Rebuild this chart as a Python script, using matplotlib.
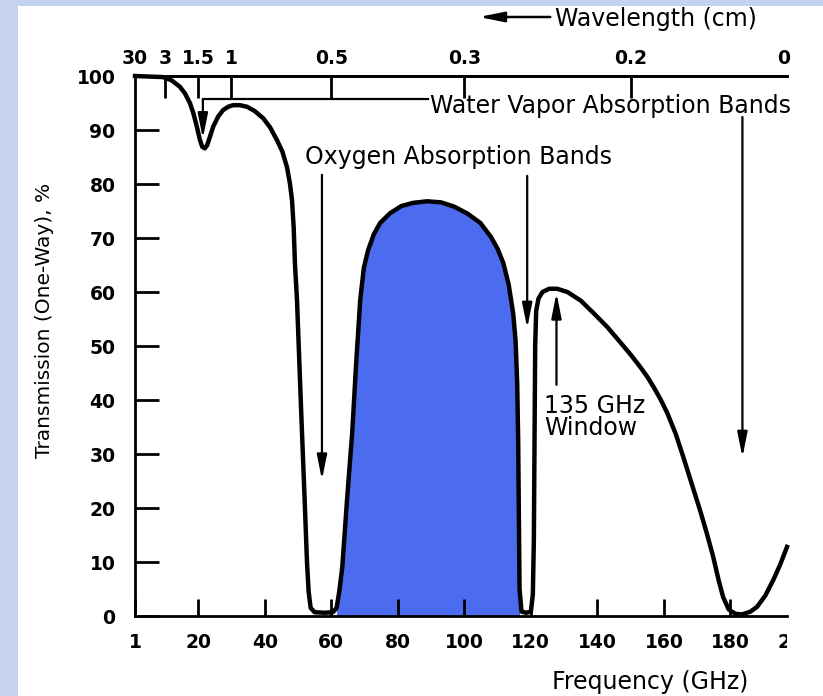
import matplotlib
matplotlib.use('Agg')
import matplotlib.pyplot as plt
from matplotlib.patches import Rectangle, FancyArrowPatch

# transmission curve (frequency GHz, transmission %)
freq = [1, 5, 9.4, 12, 14.5, 16, 17.5, 18.6, 19.6, 20.5, 21.2, 22, 22.7, 23.5, 24.5,
        26, 27.5, 29, 30.5, 32.5, 34.7, 37, 39.5, 41.6, 43.7, 45.3, 46.7, 47.6, 48.2,
        48.7, 49.1, 49.7, 50.4, 51.2, 52, 52.7, 53.2, 53.8, 55, 58, 60.5, 61.6, 62.4,
        63.3, 64.8, 66.3, 67.5, 68.7, 69.8, 71.1, 72.8, 74.7, 77.7, 81, 84.5, 88.8,
        93, 97, 101, 104.8, 108, 110, 111.7, 113.3, 114.7, 115.4, 115.9, 116.2, 116.4,
        116.6, 117.2, 118.6, 120.0, 120.6, 120.9, 121.1, 121.3, 121.6, 122.3, 123.5,
        125.5, 127.9, 131, 135, 139, 143, 147, 150, 152.9, 155, 157, 159, 161, 163.5,
        165.8, 168.4, 170.9, 172.9, 174.8, 176.5, 177.8, 179.5, 181.5, 183.5, 186, 188,
        190.5, 192.9, 195, 197]
trans = [100, 99.9, 99.8, 99.2, 98, 96.8, 95, 93, 90.6, 88.2, 86.9, 86.6, 87.2, 88.7, 90.6,
         92.5, 93.7, 94.3, 94.6, 94.6, 94.3, 93.5, 92.2, 90.5, 88.1, 86, 83.1, 80, 77,
         72, 65, 58.5, 47, 34, 21.5, 10, 4.5, 1.5, 0.7, 0.6, 0.7, 1.5, 4.5,
         9, 22, 34, 47, 58.5, 64.5, 67.8, 70.7, 72.8, 74.6, 75.9, 76.5, 76.8,
         76.6, 75.8, 74.5, 72.8, 70.2, 68, 65.4, 61.5, 56, 51, 43, 32, 18,
         5, 0.8, 0.6, 0.8, 4, 14, 32, 50, 56.5, 58.8, 60,
         60.6, 60.6, 60, 58.4, 56, 53.5, 50.6, 48.4, 46.1, 44.3, 42.3, 40.1, 37.6, 33.8,
         29.5, 24.4, 19.5, 15.3, 11, 6.5, 3.5, 1.2, 0.4, 0.3, 0.8, 1.7,
         3.8, 6.7, 9.6, 12.8]

# top wavelength axis
wl_labels = ['30', '3', '1.5', '1', '0.5', '0.3', '0.2', '0']
wl_pos = [1, 10, 20, 30, 60, 100, 150, 196]

x_ticks = [1, 20, 40, 60, 80, 100, 120, 140, 160, 180]
y_ticks = [0, 10, 20, 30, 40, 50, 60, 70, 80, 90, 100]

W, H = 823, 696
fig = plt.figure(figsize=(W / 100, H / 100), dpi=100)
fig.patch.set_facecolor('#c5d3ef')
bg = Rectangle((18 / W, 0), 1, 1 - 6 / H, transform=fig.transFigure,
               facecolor='white', edgecolor='none', zorder=-10)
fig.patches.append(bg)

plt.rcParams['font.family'] = ['DejaVu Sans']
ax = fig.add_axes([135 / W, 1 - 616 / H, (787 - 135) / W, (616 - 76) / H])
ax.set_facecolor('none')

fill_f = [f for f in freq if 61.5 <= f <= 116.8]
fill_t = [t for f, t in zip(freq, trans) if 61.5 <= f <= 116.8]
ax.fill_between(fill_f, fill_t, 0, color='#4b6cef', linewidth=0, zorder=1)
ax.plot(freq, trans, color='black', lw=3.2, solid_joinstyle='round', zorder=3, clip_on=False)

ax.set_xlim(1, 197)
ax.set_ylim(0, 100)
ax.set_xticks(x_ticks)
ax.set_yticks(y_ticks)
ax.tick_params(axis='y', direction='in', length=17, width=2, pad=14, labelsize=13.5)
ax.tick_params(axis='x', direction='in', length=12, width=2, pad=12, labelsize=13.5)
for lab in ax.get_xticklabels() + ax.get_yticklabels():
    lab.set_fontweight('bold')
ax.spines['right'].set_visible(False)
for s in ['left', 'bottom', 'top']:
    ax.spines[s].set_linewidth(2)

# clipped "200" at the cropped right edge
t200 = ax.text(200, -0.032, '200', transform=ax.get_xaxis_transform(), ha='center',
               va='top', fontsize=13.5, fontweight='bold', clip_on=True)
t200.set_clip_path(Rectangle((0, 0), 787 / W, 1, transform=fig.transFigure))

ax2 = ax.twiny()
ax2.set_xlim(ax.get_xlim())
ax2.set_xticks(wl_pos)
ax2.set_xticklabels(wl_labels, fontweight='bold')
ax2.tick_params(axis='x', direction='in', length=16, width=2, pad=6, labelsize=13.5)
ax2.xaxis.get_major_ticks()[-1].tick2line.set_visible(False)
ax2.xaxis.get_major_ticks()[0].tick2line.set_visible(False)
for s in ['left', 'right', 'bottom']:
    ax2.spines[s].set_visible(False)
ax2.spines['top'].set_linewidth(2)

arr = dict(arrowstyle='-|>,head_length=1.5,head_width=0.3', color='black', lw=1.6,
           mutation_scale=10, shrinkA=0, shrinkB=0)

# water vapour
ax.plot([21.4, 89.0], [95.7, 95.7], color='black', lw=1.6, clip_on=False)
ax.annotate('', xy=(21.4, 88.4), xytext=(21.4, 95.7), arrowprops=arr, annotation_clip=False)
ax.text(89.6, 94.5, 'Water Vapor Absorption Bands', fontsize=17, ha='left', va='center')
ax.annotate('', xy=(183.6, 29.4), xytext=(183.6, 92.4), arrowprops=arr, annotation_clip=False)

# oxygen
ax.text(52.1, 85.0, 'Oxygen Absorption Bands', fontsize=17, ha='left', va='center')
ax.annotate('', xy=(57.2, 25.2), xytext=(57.2, 81.7), arrowprops=arr)
ax.annotate('', xy=(118.9, 53.3), xytext=(118.9, 81.5), arrowprops=arr)

# 135 GHz window
ax.annotate('', xy=(127.7, 59.8), xytext=(127.7, 42.8), arrowprops=arr)
ax.text(124.1, 38.9, '135 GHz', fontsize=17, ha='left', va='center')
ax.text(124.1, 34.8, 'Window', fontsize=17, ha='left', va='center')

fig.text(45 / W, 1 - 320 / H, 'Transmission (One-Way), %', rotation=90, fontsize=14.5,
         ha='center', va='center')
fig.text(748 / W, 1 - 682 / H, 'Frequency (GHz)', fontsize=17, ha='right', va='center')
fig.text(555 / W, 1 - 19 / H, 'Wavelength (cm)', fontsize=17, ha='left', va='center')
fig.patches.append(FancyArrowPatch(
    (553 / W, 1 - 17 / H), (476 / W, 1 - 17 / H), transform=fig.transFigure,
    arrowstyle='-|>,head_length=1.5,head_width=0.3', mutation_scale=10, color='black', lw=1.8))

fig.savefig('out.png', dpi=100)
